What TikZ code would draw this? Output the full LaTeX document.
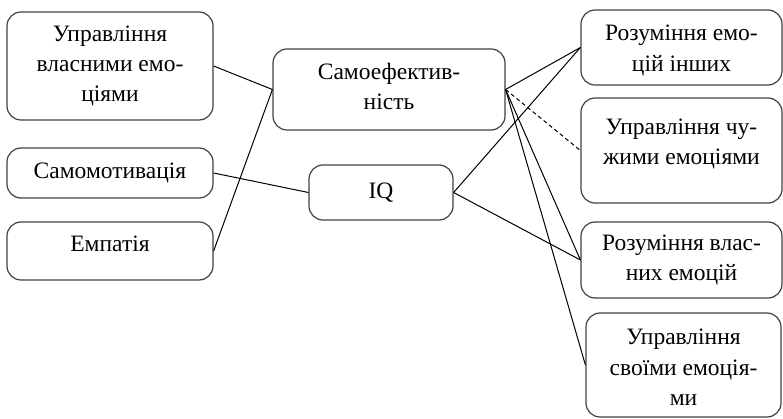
\documentclass[tikz,border=0pt]{standalone}
\usepackage{fontspec}
\setmainfont{Liberation Serif}
\begin{document}
\begin{tikzpicture}[x=1pt,y=-1pt,
  box/.style={draw=black!75, line width=1.2pt, rounded corners=14pt, inner sep=0pt,
    align=center, font=\fontsize{23.5}{30}\selectfont},
  conn/.style={line width=1pt, black},
  dconn/.style={conn, dash pattern=on 4pt off 3pt}]
\useasboundingbox (0,0) rectangle (783,419);
\node[box, minimum width=206, minimum height=108] (b1) at (110,66) {Управління\\власними емо-\\ціями};
\node[box, minimum width=206, minimum height=50] (b2) at (110,173) {Самомотивація};
\node[box, minimum width=206, minimum height=58] (b3) at (110,251) {Емпатія\\[-16pt]\mbox{}};
\node[box, minimum width=232, minimum height=81] (s) at (389,89.5) {Самоефектив-\\ність\\[-24pt]\mbox{}};
\node[box, minimum width=144, minimum height=55] (iq) at (381,192.5) {IQ};
\node[box, minimum width=201, minimum height=75] (r1) at (681.5,47.5) {\mbox{}\\[-8pt]Розуміння емо-\\[1pt]цій інших};
\node[box, minimum width=201, minimum height=105] (r2) at (681.5,150.5) {Управління чу-\\жими емоціями\\[-12pt]\mbox{}};
\node[box, minimum width=201, minimum height=76] (r3) at (681.5,260) {Розуміння влас-\\них емоцій};
\node[box, minimum width=195, minimum height=104] (r4) at (683.5,365) {\mbox{}\\[-10pt]Управління\\[1pt]своїми емоція-\\ми};
\draw[conn] (b1.east) -- (s.west);
\draw[conn] (b3.east) -- (s.west);
\draw[conn] (b2.east) -- (iq.west);
\draw[conn] (s.east) -- (r1.west);
\draw[dconn] (s.east) -- (r2.west);
\draw[conn] (s.east) -- (r3.west);
\draw[conn] (s.east) -- (r4.west);
\draw[conn] (iq.east) -- (r1.west);
\draw[conn] (iq.east) -- (r3.west);
\end{tikzpicture}
\end{document}
